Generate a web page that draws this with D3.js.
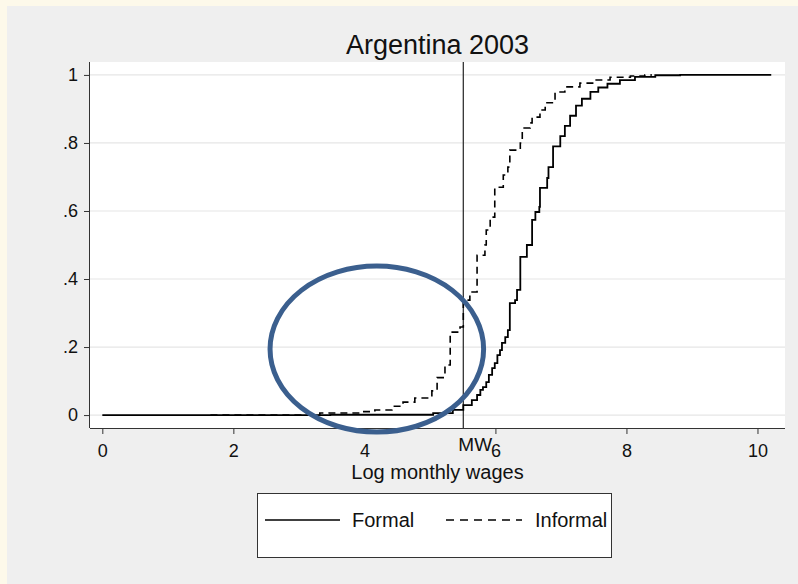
<!DOCTYPE html>
<html>
<head>
<meta charset="utf-8">
<script src="https://cdn.jsdelivr.net/npm/d3@7"></script>
<style>
  html, body { margin: 0; padding: 0; background: #fdf9ea; }
  svg { display: block; }
  text { font-family: "Liberation Sans", Arial, sans-serif; fill: #111; }
</style>
</head>
<body>
<script>
// Empirical CDFs of log monthly wages, Argentina 2003 (step points: [log wage, cumulative share])
const formal = [
  [0.00, 0.000], [3.48, 0.001], [5.05, 0.006], [5.35, 0.015], [5.51, 0.029],
  [5.64, 0.044], [5.72, 0.059], [5.77, 0.074], [5.81, 0.082], [5.86, 0.097],
  [5.90, 0.118], [5.95, 0.138], [5.99, 0.153], [6.03, 0.176], [6.07, 0.191],
  [6.10, 0.212], [6.15, 0.229], [6.19, 0.250], [6.22, 0.329], [6.30, 0.338],
  [6.33, 0.368], [6.38, 0.465], [6.48, 0.500], [6.56, 0.574], [6.61, 0.597],
  [6.67, 0.612], [6.68, 0.668], [6.79, 0.697], [6.81, 0.729], [6.88, 0.790],
  [6.99, 0.820], [7.06, 0.850], [7.14, 0.880], [7.23, 0.910], [7.32, 0.930],
  [7.45, 0.950], [7.57, 0.963], [7.71, 0.974], [7.90, 0.985], [8.13, 0.994],
  [8.44, 0.999], [8.82, 1.000], [10.21, 1.000]
];
const informal = [
  [1.65, 0.000], [3.32, 0.006], [3.94, 0.010], [4.16, 0.015], [4.42, 0.026],
  [4.59, 0.038], [4.77, 0.050], [5.03, 0.071], [5.11, 0.110], [5.23, 0.147],
  [5.31, 0.244], [5.46, 0.259], [5.51, 0.332], [5.57, 0.338], [5.61, 0.362],
  [5.72, 0.470], [5.84, 0.500], [5.86, 0.544], [5.92, 0.582], [5.99, 0.670],
  [6.12, 0.706], [6.19, 0.729], [6.22, 0.779], [6.38, 0.800], [6.41, 0.844],
  [6.53, 0.859], [6.56, 0.876], [6.68, 0.897], [6.76, 0.918], [6.91, 0.950],
  [7.06, 0.965], [7.29, 0.976], [7.52, 0.985], [7.75, 0.993], [8.06, 0.997],
  [8.28, 1.000], [8.39, 1.000]
];
const minWage = 5.51;            // log of the monthly minimum wage
const xTicks = [0, 2, 4, 6, 8, 10];
const yTicks = [0, 0.2, 0.4, 0.6, 0.8, 1];
const yTickLabels = ["0", ".2", ".4", ".6", ".8", "1"];
const seriesNames = ["Formal", "Informal"];
const titleText = "Argentina 2003";
const xTitle = "Log monthly wages";
// highlighted region: centre in data units, radii in data units
const highlight = { cx: 4.19, cy: 0.194, rx: 1.63, ry: 0.244 };

const W = 798, H = 584;
const plot = { left: 90, top: 62, right: 785, bottom: 428 };
const FONT = "Liberation Sans, Arial, sans-serif";

const svg = d3.select("body").append("svg").attr("width", W).attr("height", H);

// outer panel
svg.append("rect").attr("x", 7).attr("y", 6).attr("width", W - 7).attr("height", H - 6)
  .attr("fill", "#efefef");

const x = d3.scaleLinear().domain([-0.188, 10.42]).range([plot.left, plot.right]);
const y = d3.scaleLinear().domain([-0.038, 1.038]).range([plot.bottom, plot.top]);

// plot region
svg.append("rect").attr("x", plot.left).attr("y", plot.top)
  .attr("width", plot.right - plot.left).attr("height", plot.bottom - plot.top)
  .attr("fill", "#ffffff");

// horizontal gridlines
svg.append("g").selectAll("line").data(yTicks).join("line")
  .attr("x1", plot.left).attr("x2", plot.right)
  .attr("y1", d => y(d)).attr("y2", d => y(d))
  .attr("stroke", "#e6e6e6").attr("stroke-width", 1.2);

// axes
const xAxis = d3.axisBottom(x).tickValues(xTicks).tickSize(6).tickPadding(10).tickFormat(d3.format("d"));
const gx = svg.append("g").attr("transform", `translate(0,${plot.bottom})`).call(xAxis);
gx.select(".domain").attr("d", `M${plot.left},0.5H${plot.right}`).attr("stroke", "#333");
gx.selectAll(".tick line").attr("stroke", "#333");
gx.selectAll(".tick text").attr("font-size", 18).attr("font-family", FONT).attr("fill", "#111");

const yAxis = d3.axisLeft(y).tickValues(yTicks).tickSize(6).tickPadding(6)
  .tickFormat((d, i) => yTickLabels[i]);
const gy = svg.append("g").attr("transform", `translate(${plot.left},0)`).call(yAxis);
gy.select(".domain").attr("d", `M-0.5,${plot.top}V${plot.bottom}`).attr("stroke", "#333");
gy.selectAll(".tick line").attr("stroke", "#333");
gy.selectAll(".tick text").attr("font-size", 18).attr("font-family", FONT).attr("fill", "#111");

// minimum wage reference line
svg.append("line")
  .attr("x1", x(minWage)).attr("x2", x(minWage))
  .attr("y1", plot.top).attr("y2", plot.bottom)
  .attr("stroke", "#333").attr("stroke-width", 1.3);
svg.append("text").attr("x", x(minWage) - 5).attr("y", plot.bottom + 23)
  .attr("text-anchor", "start").attr("font-size", 19).text("MW");

// ECDF step lines
const line = d3.line().x(d => x(d[0])).y(d => y(d[1])).curve(d3.curveStepAfter);
svg.append("path").datum(formal).attr("d", line)
  .attr("fill", "none").attr("stroke", "#000").attr("stroke-width", 1.8);
svg.append("path").datum(informal).attr("d", line)
  .attr("fill", "none").attr("stroke", "#000").attr("stroke-width", 1.6)
  .attr("stroke-dasharray", "7,5");

// highlight ellipse
svg.append("ellipse")
  .attr("cx", x(highlight.cx)).attr("cy", y(highlight.cy))
  .attr("rx", x(highlight.rx) - x(0)).attr("ry", y(0) - y(highlight.ry))
  .attr("fill", "none").attr("stroke", "#3b5f8e").attr("stroke-width", 5);

// titles
svg.append("text").attr("x", (plot.left + plot.right) / 2).attr("y", 54)
  .attr("text-anchor", "middle").attr("font-size", 27).text(titleText);
svg.append("text").attr("x", (plot.left + plot.right) / 2).attr("y", 479)
  .attr("text-anchor", "middle").attr("font-size", 20).text(xTitle);

// legend
const lg = svg.append("g");
lg.append("rect").attr("x", 257.5).attr("y", 493.5).attr("width", 354).attr("height", 64)
  .attr("fill", "#fff").attr("stroke", "#333").attr("stroke-width", 1);
const legendItems = [
  { name: seriesNames[0], x0: 265, x1: 340, tx: 352, dash: null },
  { name: seriesNames[1], x0: 446, x1: 522, tx: 535, dash: "8,6" }
];
legendItems.forEach(it => {
  lg.append("line").attr("x1", it.x0).attr("x2", it.x1).attr("y1", 520).attr("y2", 520)
    .attr("stroke", "#000").attr("stroke-width", 1.5)
    .attr("stroke-dasharray", it.dash);
  lg.append("text").attr("x", it.tx).attr("y", 527).attr("font-size", 20).text(it.name);
});
</script>
</body>
</html>
